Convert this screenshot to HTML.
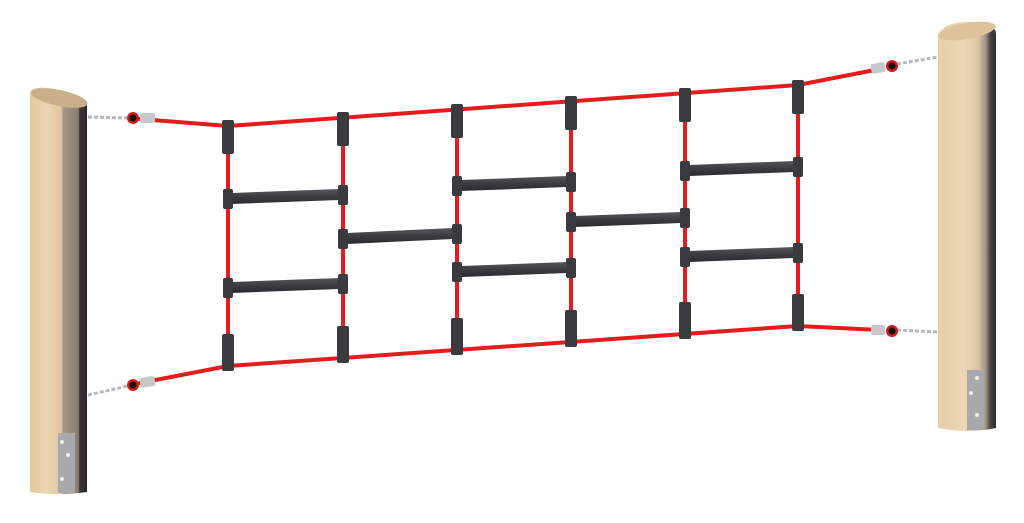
<!DOCTYPE html>
<html><head><meta charset="utf-8"><style>html,body{margin:0;padding:0;background:#fff;width:1024px;height:523px;overflow:hidden}</style></head>
<body>
<svg width="1024" height="523" viewBox="0 0 1024 523" xmlns="http://www.w3.org/2000/svg">
<defs>
<linearGradient id="wl" x1="0" x2="1">
<stop offset="0" stop-color="#e2c9a0"/><stop offset="0.3" stop-color="#ecd6b2"/><stop offset="0.55" stop-color="#e0c7a0"/><stop offset="0.58" stop-color="#a89888"/><stop offset="0.85" stop-color="#8a7c72"/><stop offset="0.87" stop-color="#3a3438"/><stop offset="1" stop-color="#2c282c"/>
</linearGradient>
<linearGradient id="wr" x1="0" x2="1">
<stop offset="0" stop-color="#e6cfa8"/><stop offset="0.45" stop-color="#ecd8b6"/><stop offset="0.7" stop-color="#d9c3a3"/><stop offset="0.82" stop-color="#a09488"/><stop offset="0.9" stop-color="#4a4448"/><stop offset="1" stop-color="#2e2a2e"/>
</linearGradient>
<linearGradient id="rg" x1="0" y1="0" x2="0" y2="1">
<stop offset="0" stop-color="#55575c"/><stop offset="0.5" stop-color="#3a3c40"/><stop offset="1" stop-color="#2a2b2e"/>
</linearGradient>
</defs>

<!-- left post -->
<path d="M30 95 Q31 86 48 88 Q80 93 87 102 L87 492 Q58 496 30 492 Z" fill="url(#wl)"/>
<ellipse cx="59" cy="98" rx="29" ry="8" transform="rotate(12 59 98)" fill="#c9b08a"/>
<rect x="58" y="433" width="17" height="60" fill="#a9a9ad"/>
<circle cx="62" cy="442" r="2" fill="#eee"/><circle cx="68" cy="455" r="2" fill="#eee"/><circle cx="62" cy="479" r="2" fill="#eee"/>
<!-- right post -->
<path d="M938 35 Q945 20 975 22 Q997 24 996 35 L996 428 Q967 434 938 428 Z" fill="url(#wr)"/>
<ellipse cx="967" cy="31" rx="29" ry="8" transform="rotate(-10 967 31)" fill="#dcc39c"/>
<rect x="967" y="370" width="17" height="60" fill="#a9a9ad"/>
<circle cx="977" cy="378" r="2" fill="#eee"/><circle cx="971" cy="393" r="2" fill="#eee"/><circle cx="977" cy="415" r="2" fill="#eee"/>

<!-- chains -->
<g stroke="#b8b8bc" stroke-width="3" stroke-dasharray="4 2" fill="none">
<line x1="88" y1="117" x2="128" y2="118"/>
<line x1="88" y1="395" x2="128" y2="386"/>
<line x1="897" y1="64" x2="938" y2="57"/>
<line x1="897" y1="330" x2="938" y2="332"/>
</g>

<!-- ropes -->
<g stroke="#e41c1c" stroke-width="4" fill="none" stroke-linecap="round">
<polyline points="140,119 228,126 798,85 880,69"/>
<polyline points="140,383 228,366 798,326 880,330"/>
<line x1="228" y1="125" x2="228" y2="366"/>
<line x1="343" y1="117" x2="343" y2="358"/>
<line x1="457" y1="109" x2="457" y2="350"/>
<line x1="571" y1="101" x2="571" y2="342"/>
<line x1="685" y1="93" x2="685" y2="334"/>
<line x1="798" y1="85" x2="798" y2="326"/>
</g>

<!-- rings & sleeves -->
<g>
<circle cx="133" cy="118" r="6" fill="#d61a1a"/><circle cx="133" cy="118" r="3.5" fill="#111"/>
<rect x="140" y="113" width="15" height="10" rx="2" fill="#c8c8cc"/>
<circle cx="133" cy="385" r="6" fill="#d61a1a"/><circle cx="133" cy="385" r="3.5" fill="#111"/>
<rect x="140" y="377" width="15" height="10" rx="2" fill="#c8c8cc" transform="rotate(-10 147 382)"/>
<circle cx="892" cy="66" r="6" fill="#d61a1a"/><circle cx="892" cy="66" r="3.5" fill="#111"/>
<rect x="871" y="63" width="14" height="10" rx="2" fill="#c8c8cc" transform="rotate(-10 878 68)"/>
<circle cx="892" cy="331" r="6" fill="#d61a1a"/><circle cx="892" cy="331" r="3.5" fill="#111"/>
<rect x="871" y="325" width="14" height="10" rx="2" fill="#c8c8cc"/>
</g>

<!-- rungs -->
<g fill="url(#rg)">
<polygon points="232,193 339,189 339,200 232,204"/>
<polygon points="232,282 339,278 339,289 232,293"/>
<polygon points="347,233 453,228 453,239 347,244"/>
<polygon points="461,180 567,176 567,187 461,191"/>
<polygon points="461,266 567,262 567,273 461,277"/>
<polygon points="575,216 681,212 681,223 575,227"/>
<polygon points="689,165 794,161 794,172 689,176"/>
<polygon points="689,251 794,247 794,258 689,262"/>
</g>
<!-- joint caps -->
<g fill="#3a3b3f">
<rect x="223" y="189" width="10" height="20" rx="2"/><rect x="338" y="185" width="10" height="20" rx="2"/>
<rect x="223" y="278" width="10" height="20" rx="2"/><rect x="338" y="274" width="10" height="20" rx="2"/>
<rect x="338" y="229" width="10" height="20" rx="2"/><rect x="452" y="224" width="10" height="20" rx="2"/>
<rect x="452" y="176" width="10" height="20" rx="2"/><rect x="566" y="172" width="10" height="20" rx="2"/>
<rect x="452" y="262" width="10" height="20" rx="2"/><rect x="566" y="258" width="10" height="20" rx="2"/>
<rect x="566" y="212" width="10" height="20" rx="2"/><rect x="680" y="208" width="10" height="20" rx="2"/>
<rect x="680" y="161" width="10" height="20" rx="2"/><rect x="793" y="157" width="10" height="20" rx="2"/>
<rect x="680" y="247" width="10" height="20" rx="2"/><rect x="793" y="243" width="10" height="20" rx="2"/>
<!-- top connectors -->
<rect x="222" y="120" width="12" height="34" rx="2"/><rect x="337" y="112" width="12" height="34" rx="2"/>
<rect x="451" y="104" width="12" height="34" rx="2"/><rect x="565" y="96" width="12" height="34" rx="2"/>
<rect x="679" y="88" width="12" height="34" rx="2"/><rect x="792" y="80" width="12" height="34" rx="2"/>
<!-- bottom connectors -->
<rect x="222" y="334" width="12" height="37" rx="2"/><rect x="337" y="326" width="12" height="37" rx="2"/>
<rect x="451" y="318" width="12" height="37" rx="2"/><rect x="565" y="310" width="12" height="37" rx="2"/>
<rect x="679" y="302" width="12" height="37" rx="2"/><rect x="792" y="294" width="12" height="37" rx="2"/>
</g>
</svg>
</body></html>
